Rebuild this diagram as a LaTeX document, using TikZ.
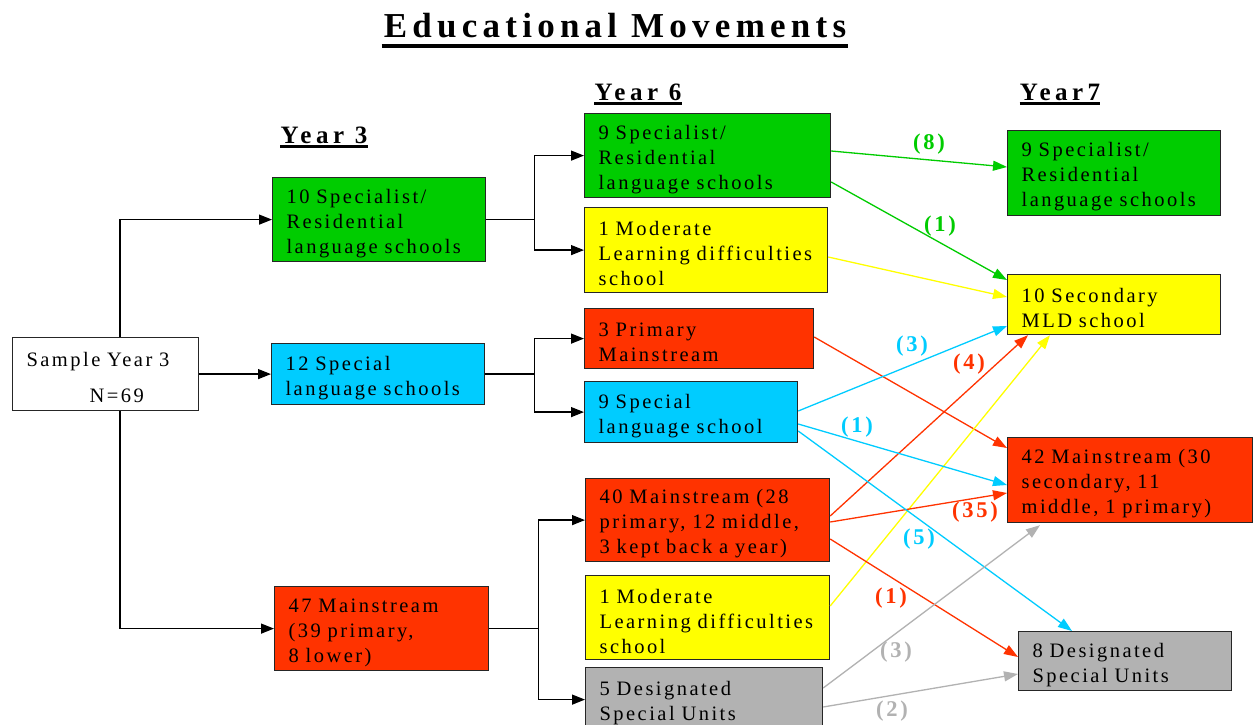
\documentclass[tikz,border=0pt]{standalone}
\usepackage{fontspec}
\setmainfont{Liberation Serif}[LetterSpace=12,Ligatures=NoCommon]
\newfontfamily\headfont{Liberation Serif}[LetterSpace=15,Ligatures=NoCommon]
\newfontfamily\yearfont{Liberation Serif}[LetterSpace=18,Ligatures=NoCommon]
\usetikzlibrary{arrows.meta,calc}

\definecolor{cgreen}{HTML}{00CC00}
\definecolor{cyellow}{HTML}{FFFF00}
\definecolor{cred}{HTML}{FF3300}
\definecolor{cblue}{HTML}{00CCFF}
\definecolor{cgrey}{HTML}{B2B2B2}

\begin{document}
\begin{tikzpicture}[x=1pt,y=-1pt,
  box/.style={draw=black!85, line width=1.2pt, anchor=north west,
    inner xsep=14pt, inner ysep=0pt, align=left,
    font=\fontsize{20.5}{25}\selectfont,
    execute at begin node={\rule{0pt}{21.5pt}}},
  conn/.style={line width=1.4pt, -{Triangle[length=13pt,width=10pt]}},
  flow/.style={line width=1.3pt, -{Triangle[length=14pt,width=10pt]}},
  num/.style={font=\fontsize{22.5}{22.5}\selectfont\bfseries, inner sep=0pt},
  yearlab/.style={font=\yearfont\fontsize{25}{25}\selectfont\bfseries,
    inner sep=0pt, anchor=base},
  uline/.style={line width=2.6pt},
]
\useasboundingbox (0,0) rectangle (1258,725);
\clip (0,0) rectangle (1258,725);
\fill[white] (0,0) rectangle (1258,725);

% heading and column headings
\node[font=\headfont\fontsize{35}{35}\selectfont\bfseries, inner sep=0pt, anchor=base]
  (title) at (615,38) {Educational Movements};
\draw[line width=3.5pt] ($(title.base west)+(-2,8)$) -- ($(title.base east)+(2,8)$);

\node[yearlab] (y3) at (324,143) {Year 3};
\node[yearlab] (y6) at (638,100) {Year 6};
\node[yearlab] (y7) at (1060,100) {Year7};
\foreach \h in {y3,y6,y7}
  \draw[uline] ($(\h.base west)+(0,3.5)$) -- ($(\h.base east)+(0,3.5)$);

% starting sample
\node[box, fill=white, minimum width=186pt, minimum height=73pt, text width=158pt,
  execute at begin node={}]
  (S) at (12,337) {Sample~Year~3\\[11pt]\hspace*{63pt}N=69};

% Year 3
\node[box, fill=cgreen, minimum width=213pt, minimum height=84pt, text width=185pt]
  (G3) at (272,177) {10~Specialist/\\Residential\\language~schools};
\node[box, fill=cblue, minimum width=213pt, minimum height=61pt, text width=185pt]
  (B3) at (271,343) {12~Special\\language~schools};
\node[box, fill=cred, minimum width=214pt, minimum height=84pt, text width=186pt]
  (R3) at (274,586) {47~Mainstream\\(39~primary,\\8~lower)};

% Year 6
\node[box, fill=cgreen, minimum width=246pt, minimum height=84pt, text width=218pt]
  (G6) at (584,113) {9~Specialist/\\Residential\\language~schools};
\node[box, fill=cyellow, minimum width=243pt, minimum height=85pt, text width=215pt]
  (Y6a) at (584,207) {1~Moderate\\Learning~difficulties\\school};
\node[box, fill=cred, minimum width=229pt, minimum height=60pt, text width=201pt]
  (R6a) at (584,308) {3~Primary\\Mainstream};
\node[box, fill=cblue, minimum width=213pt, minimum height=61pt, text width=185pt]
  (B6) at (584,381) {9~Special\\language~school};
\node[box, fill=cred, minimum width=244pt, minimum height=83pt, text width=216pt]
  (R6b) at (585,478) {40~Mainstream~(28\\primary,~12~middle,\\3~kept~back~a~year)};
\node[box, fill=cyellow, minimum width=244pt, minimum height=84pt, text width=216pt]
  (Y6b) at (585,575) {1~Moderate\\Learning~difficulties\\school};
\node[box, fill=cgrey, minimum width=237pt, minimum height=64pt, text width=209pt]
  (Gr6) at (585,667) {5~Designated\\Special~Units};

% Year 7
\node[box, fill=cgreen, minimum width=213pt, minimum height=85pt, text width=185pt]
  (G7) at (1007,130) {9~Specialist/\\Residential\\language~schools};
\node[box, fill=cyellow, minimum width=213pt, minimum height=60pt, text width=185pt]
  (Y7) at (1007,274) {10~Secondary\\MLD~school};
\node[box, fill=cred, minimum width=245pt, minimum height=85pt, text width=217pt]
  (R7) at (1007,437) {42~Mainstream~(30\\secondary,~11\\middle,~1~primary)};
\node[box, fill=cgrey, minimum width=213pt, minimum height=59pt, text width=185pt]
  (Gr7) at (1018,631) {8~Designated\\Special~Units};

% tree from the sample to Year 6
\draw[conn] ($(S.north west)+(108,0)$) |- (G3.west);
\draw[conn] (S.east) -- (B3.west);
\draw[conn] ($(S.south west)+(108,0)$) |- (R3.west);

\draw[line width=1.4pt] (G3.east) -- ++(48,0) coordinate (j1);
\draw[conn] (j1) |- (G6.west);
\draw[conn] (j1) |- (Y6a.west);
\draw[line width=1.4pt] (B3.east) -- ++(49,0) coordinate (j2);
\draw[conn] (j2) |- (R6a.west);
\draw[conn] (j2) |- (B6.west);
\draw[line width=1.4pt] (R3.east) -- ++(49,0) coordinate (j3);
\draw[conn] (j3) |- (R6b.west);
\draw[conn] (j3) |- (Gr6.west);

% movements from Year 6 to Year 7
\draw[flow, cgreen] ($(G6.north east)+(0,38)$) -- ($(G7.north west)+(0,37)$);
\draw[flow, cgreen] ($(G6.north east)+(0,69)$) -- ($(Y7.north west)+(0,6)$);
\draw[flow, cyellow] ($(Y6a.north east)+(0,50)$) -- ($(Y7.north west)+(0,23)$);
\draw[flow, cred] ($(R6a.north east)+(0,29)$) -- ($(R7.north west)+(0,11)$);
\draw[flow, cblue] ($(B6.north east)+(0,30)$) -- ($(Y7.north west)+(0,52)$);
\draw[flow, cred] ($(R6b.north east)+(0,38)$) -- ($(Y7.south west)+(21,0)$);
\draw[flow, cyellow] ($(Y6b.north east)+(0,31)$) -- ($(Y7.south west)+(43,0)$);
\draw[flow, cblue] ($(B6.north east)+(0,43)$) -- ($(R7.north west)+(0,48)$);
\draw[flow, cred] ($(R6b.north east)+(0,44)$) -- ($(R7.north west)+(0,56)$);
\draw[flow, cblue] ($(B6.north east)+(0,50)$) -- ($(Gr7.north west)+(54,0)$);
\draw[flow, cred] ($(R6b.north east)+(0,61)$) -- ($(Gr7.north west)+(0,26)$);
\draw[flow, cgrey] ($(Gr6.north east)+(0,21)$) -- ($(R7.south west)+(33,2)$);
\draw[flow, cgrey] ($(Gr6.north east)+(0,40)$) -- ($(Gr7.north west)+(0,43)$);

% counts on the movements
\node[num, text=cgreen] (n8) at (929,144) {(8)};
\node[num, text=cgreen] (n1g) at (940,226) {(1)};
\node[num, text=cblue] (n3b) at (912,346) {(3)};
\node[num, text=cred] (n4) at (969,364) {(4)};
\node[num, text=cblue] (n1b) at (857,427) {(1)};
\node[num, text=cred] (n35) at (975,512) {(35)};
\node[num, text=cblue] (n5) at (919,539) {(5)};
\node[num, text=cred] (n1r) at (891,598) {(1)};
\node[num, text=cgrey] (n3g) at (896,652) {(3)};
\node[num, text=cgrey] (n2) at (892,711) {(2)};
\end{tikzpicture}
\end{document}
